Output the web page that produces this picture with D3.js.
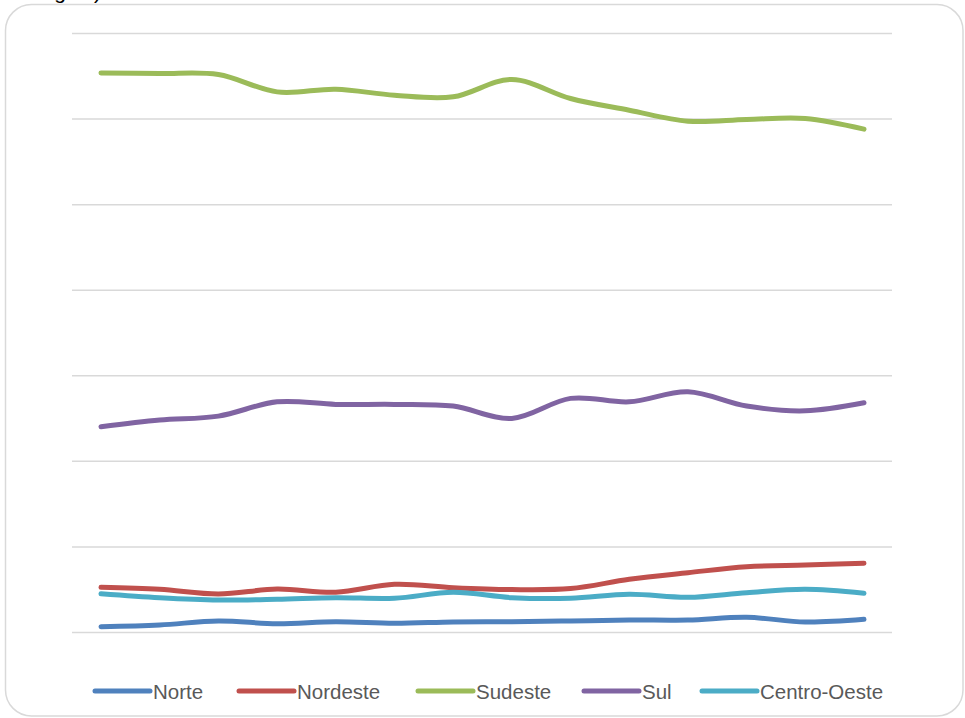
<!DOCTYPE html>
<html>
<head>
<meta charset="utf-8">
<script src="https://cdn.jsdelivr.net/npm/d3@7"></script>
<style>
  body { margin: 0; background: #fff; }
  svg { display: block; font-family: "Liberation Sans", Arial, sans-serif; }
</style>
</head>
<body>
<svg width="965" height="718"></svg>
<script>
// periods on the x axis (no labels shown in the chart)
const periodos = [1, 2, 3, 4, 5, 6, 7, 8, 9, 10, 11, 12, 13, 14];

const norte = [0.62, 0.82, 1.29, 0.97, 1.20, 1.02, 1.17, 1.20, 1.29, 1.40, 1.40, 1.72, 1.17, 1.48];
const nordeste = [5.22, 4.99, 4.44, 5.02, 4.64, 5.57, 5.18, 4.96, 5.08, 6.16, 6.93, 7.63, 7.83, 8.03];
const sudeste = [65.34, 65.27, 65.15, 63.12, 63.43, 62.73, 62.54, 64.57, 62.35, 60.98, 59.70, 59.89, 60.01, 58.76];
const sul = [23.98, 24.77, 25.23, 26.90, 26.60, 26.60, 26.40, 24.96, 27.30, 26.90, 28.07, 26.40, 25.85, 26.79];
const centroOeste = [4.47, 4.01, 3.74, 3.82, 4.01, 3.94, 4.64, 4.01, 3.94, 4.40, 4.05, 4.59, 4.99, 4.52];

const yTicks = [0, 10, 20, 30, 40, 50, 60, 70];

const series = [
    { name: 'Norte', values: norte, color: '#4F81BD' },
    { name: 'Nordeste', values: nordeste, color: '#C0504D' },
    { name: 'Sudeste', values: sudeste, color: '#9BBB59' },
    { name: 'Sul', values: sul, color: '#8064A2' },
    { name: 'Centro-Oeste', values: centroOeste, color: '#4BACC6' }
];

const svg = d3.select('svg');

// clipped title remnant above the frame (only descenders show)
svg.append('text')
    .attr('x', 101)
    .attr('y', -1)
    .attr('text-anchor', 'end')
    .style('font-size', '21px')
    .style('fill', '#000')
    .text('região)');

// chart frame
svg.append('rect')
    .attr('x', 5.5)
    .attr('y', 4.5)
    .attr('width', 957.5)
    .attr('height', 711.5)
    .attr('rx', 26)
    .attr('fill', '#fff')
    .attr('stroke', '#d9d9d9')
    .attr('stroke-width', 1.5);

const x = d3.scalePoint()
    .domain(periodos)
    .range([101, 864]);

const y = d3.scaleLinear()
    .domain([0, 70])
    .range([632, 33]);

// horizontal gridlines
svg.append('g')
    .attr('transform', 'translate(72,0)')
    .call(d3.axisLeft(y).tickValues(yTicks).tickSize(-820).tickFormat(''))
    .call(g => g.select('.domain').remove())
    .call(g => g.selectAll('line').attr('stroke', '#d9d9d9').attr('stroke-width', 1.5));

const line = d3.line()
    .x((d, i) => x(periodos[i]))
    .y(d => y(d))
    .curve(d3.curveCardinal);

svg.append('g')
    .selectAll('path')
    .data(series)
    .enter()
    .append('path')
    .attr('d', s => line(s.values))
    .attr('fill', 'none')
    .attr('stroke', s => s.color)
    .attr('stroke-width', 5)
    .attr('stroke-linecap', 'round')
    .attr('stroke-linejoin', 'round');

// legend
const legendX = [95, 239, 418, 584, 702];
const legend = svg.append('g')
    .selectAll('g')
    .data(series)
    .enter()
    .append('g')
    .attr('transform', (s, i) => 'translate(' + legendX[i] + ',691)');

legend.append('line')
    .attr('x1', 0)
    .attr('x2', 55)
    .attr('stroke', s => s.color)
    .attr('stroke-width', 5)
    .attr('stroke-linecap', 'round');

legend.append('text')
    .attr('x', 58)
    .attr('y', 7.5)
    .style('font-size', '20.5px')
    .style('fill', '#595959')
    .text(s => s.name);
</script>
</body>
</html>
